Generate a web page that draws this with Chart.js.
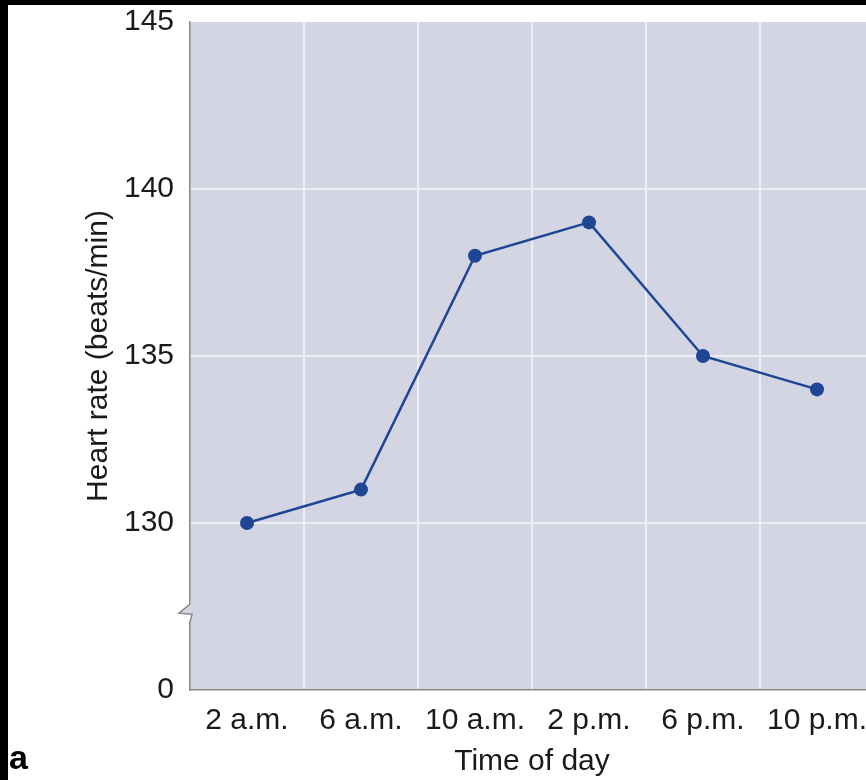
<!DOCTYPE html>
<html><head><meta charset="utf-8">
<script src="https://cdn.jsdelivr.net/npm/chart.js@4"></script>
<style>
html,body{margin:0;padding:0;background:#fff;overflow:hidden;width:866px;height:780px;}
#wrap{position:relative;width:881px;height:780px;}
#c{position:absolute;left:0;top:0;width:881px;height:780px;}
#topband{position:absolute;left:0;top:0;width:881px;height:5px;background:#000;}
#leftband{position:absolute;left:0;top:0;width:8px;height:780px;background:#000;}
#lbl{position:absolute;left:9px;top:739px;font:bold 34px "Liberation Sans",Arial,sans-serif;color:#000;line-height:36px;}
</style></head><body>
<div id="wrap">
<canvas id="c" width="881" height="780"></canvas>
<div id="topband"></div><div id="leftband"></div>
<div id="lbl">a</div>
</div>
<script>
const categories = ['2 a.m.', '6 a.m.', '10 a.m.', '2 p.m.', '6 p.m.', '10 p.m.'];
const heartRate = [130, 131, 138, 139, 135, 134];
const yTickValues = [125, 130, 135, 140, 145];
const yTickLabels = ['0', '130', '135', '140', '145'];
const xTitle = 'Time of day';
const yTitle = 'Heart rate (beats/min)';

const PLOT_BG = '#d4d5e3';
const GRID = '#eceef5';
const AXIS = '#8a8a8a';
const LINE = '#1f4595';
const FONT = {family: '"Liberation Sans", Arial, sans-serif', size: 30, lineHeight: 1.2};

const bgPlugin = {
  id: 'bg',
  beforeDraw(chart) {
    const {ctx, chartArea: a} = chart;
    ctx.save();
    ctx.fillStyle = '#fff';
    ctx.fillRect(0, 0, chart.width, chart.height);
    ctx.fillStyle = PLOT_BG;
    ctx.fillRect(a.left, a.top, a.right - a.left, a.bottom - a.top);
    ctx.restore();
  },
  afterDraw(chart) {
    const {ctx} = chart;
    const x0 = chart.chartArea.left;
    const yb = chart.scales.y.getPixelForValue(127.3);
    ctx.save();
    ctx.fillStyle = '#fff';
    ctx.fillRect(x0 - 3, yb - 8, 5, 16);
    ctx.fillStyle = PLOT_BG;
    ctx.beginPath();
    ctx.moveTo(x0, yb - 8);
    ctx.lineTo(x0 - 11, yb);
    ctx.lineTo(x0 + 2, yb + 1);
    ctx.lineTo(x0, yb + 8);
    ctx.lineTo(x0 + 6, yb + 8);
    ctx.lineTo(x0 + 6, yb - 8);
    ctx.closePath();
    ctx.fill();
    ctx.strokeStyle = AXIS;
    ctx.lineWidth = 1.5;
    ctx.beginPath();
    ctx.moveTo(x0, yb - 9);
    ctx.lineTo(x0 - 11, yb);
    ctx.lineTo(x0 + 2, yb + 1);
    ctx.lineTo(x0, yb + 9);
    ctx.stroke();
    ctx.restore();
  }
};

new Chart(document.getElementById('c'), {
  type: 'line',
  data: {
    labels: categories,
    datasets: [{
      data: heartRate,
      borderColor: LINE,
      backgroundColor: LINE,
      borderWidth: 2.5,
      pointRadius: 7,
      pointBorderWidth: 0,
      pointBackgroundColor: LINE,
      tension: 0,
      clip: false
    }]
  },
  options: {
    responsive: false,
    animation: false,
    devicePixelRatio: 1,
    layout: {padding: {top: 22, left: 0, right: 0, bottom: 0}},
    plugins: {legend: {display: false}, tooltip: {enabled: false}},
    scales: {
      x: {
        type: 'category',
        offset: true,
        afterFit(s) { s.height = 90; s.paddingLeft = 0; s.paddingRight = 0; },
        grid: {
          offset: true,
          drawTicks: false,
          lineWidth: 2,
          color: (c) => (c.index === 0 ? 'rgba(0,0,0,0)' : GRID)
        },
        border: {display: true, color: AXIS, width: 1.5},
        ticks: {color: '#1a1a1a', font: FONT, padding: 13, maxRotation: 0, autoSkip: false},
        title: {display: true, text: xTitle, color: '#1a1a1a', font: FONT, padding: {top: 0, bottom: 0}}
      },
      y: {
        min: 125,
        max: 145,
        afterFit(s) { s.width = 190; s.paddingTop = 0; s.paddingBottom = 0; },
        afterBuildTicks(s) { s.ticks = yTickValues.map(v => ({value: v})); },
        grid: {
          drawTicks: false,
          lineWidth: 2,
          color: (c) => (c.tick && (c.tick.value === 125 || c.tick.value === 145) ? 'rgba(0,0,0,0)' : GRID)
        },
        border: {display: true, color: AXIS, width: 1.5},
        ticks: {
          color: '#1a1a1a', font: FONT, padding: 16,
          callback: (v) => { const i = yTickValues.indexOf(v); return i >= 0 ? yTickLabels[i] : ''; }
        },
        title: {display: true, text: yTitle, color: '#1a1a1a', font: FONT, padding: {top: 81, bottom: 0}}
      }
    }
  },
  plugins: [bgPlugin]
});
</script>
</body></html>
